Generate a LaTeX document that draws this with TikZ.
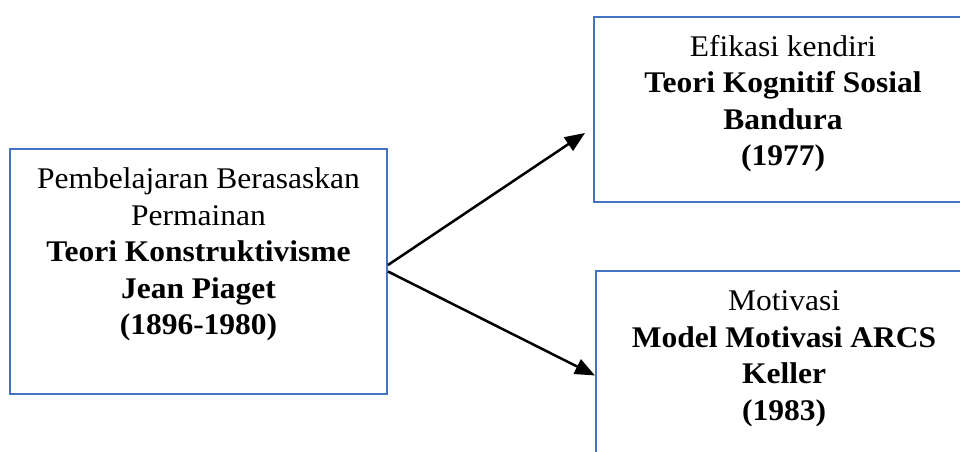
\documentclass[tikz,border=0pt]{standalone}
\usepackage{fontspec}
\setmainfont{Liberation Serif}[FakeStretch=1.05]
\usetikzlibrary{positioning, arrows.meta}
\definecolor{boxblue}{HTML}{4472C4}
\tikzstyle{block} = [rectangle, draw=boxblue, line width=1pt, inner sep=0pt]
\tikzstyle{boxtext} = [align=center, inner sep=0pt,
    font=\fontsize{15pt}{18.25pt}\selectfont]
\tikzstyle{line} = [draw, line width=1.25pt, -{Triangle[length=10pt, width=8pt]}]

\begin{document}
\begin{tikzpicture}[x=0.5pt, y=-0.5pt]

    \clip (0,0) rectangle (960,451);

    \node [block, minimum width=188.5pt, minimum height=122.5pt] (piaget) at (198.5,271.5) {};
    \node [block, minimum width=189pt, minimum height=92.5pt] (bandura) at (783,109.5) {};
    \node [block, minimum width=188pt, minimum height=104.5pt] (keller) at (784,375.5) {};

    \node [boxtext, below=9.75pt of piaget.north] (piagettext)
        {Pembelajaran Berasaskan\\Permainan\\\textbf{Teori Konstruktivisme}\\\textbf{Jean Piaget}\\\textbf{(1896-1980)}};
    \node [boxtext, below=9.25pt of bandura.north] (banduratext)
        {Efikasi kendiri\\\textbf{Teori Kognitif Sosial}\\\textbf{Bandura}\\\textbf{(1977)}};
    \node [boxtext, below=10.25pt of keller.north] (kellertext)
        {Motivasi\\\textbf{Model Motivasi ARCS}\\\textbf{Keller}\\\textbf{(1983)}};

    \path [line] ([yshift=3.25pt]piaget.east) -- ([xshift=-4pt, yshift=-11.75pt]bandura.west);
    \path [line] (piaget.east) -- (keller.west);

\end{tikzpicture}
\end{document}
